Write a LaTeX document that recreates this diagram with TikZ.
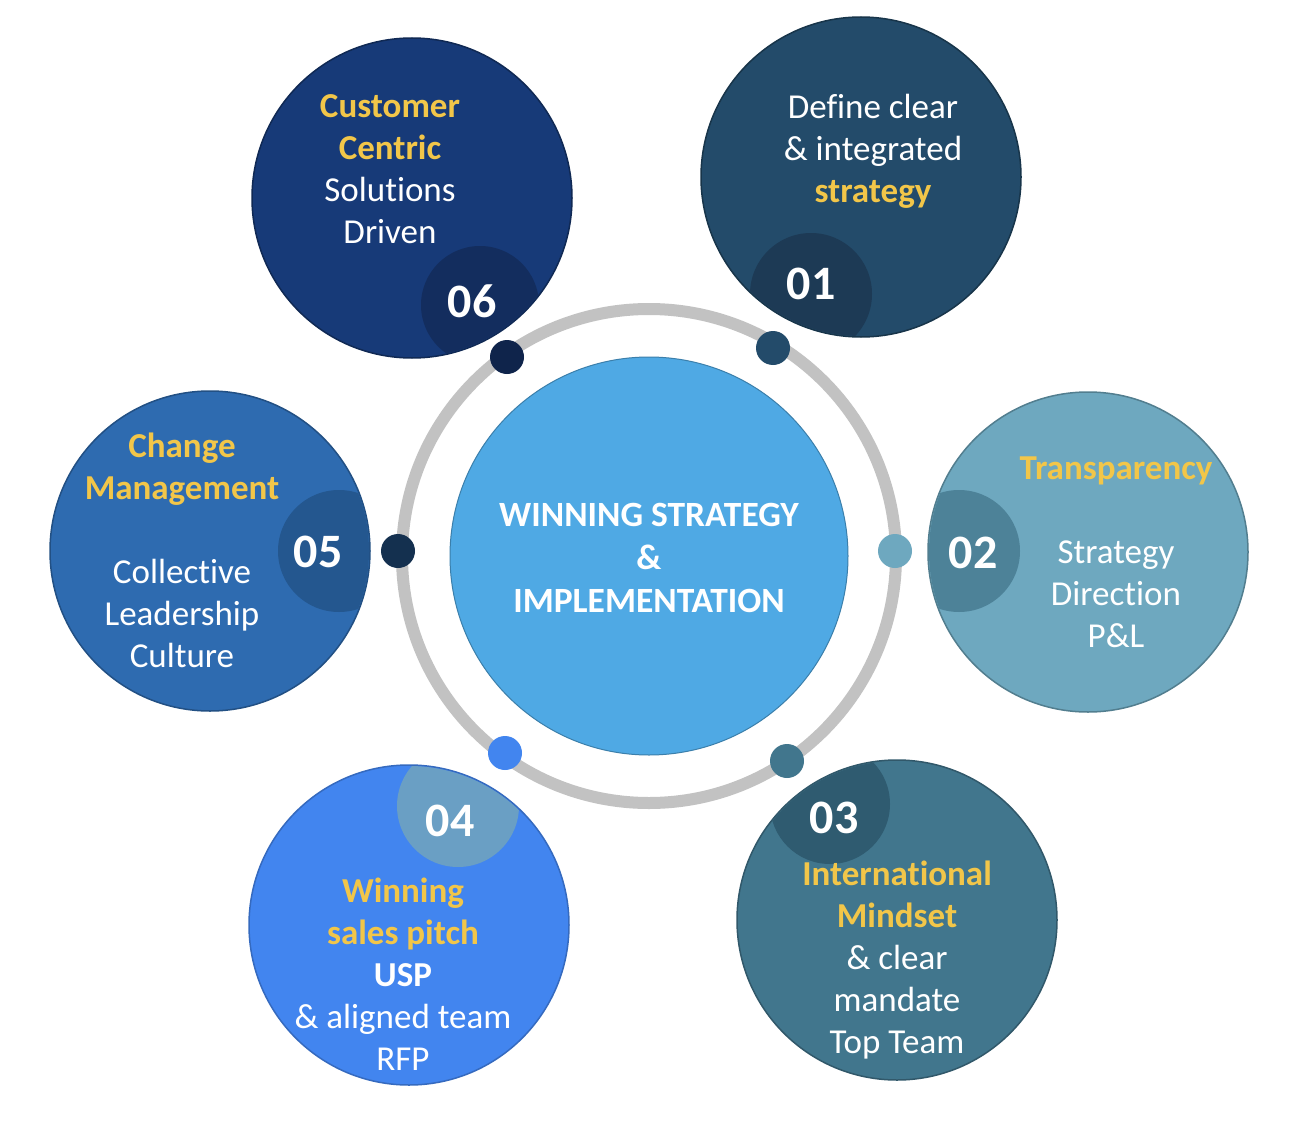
\documentclass[tikz,border=0pt]{standalone}
\usepackage{fontspec}
\setmainfont{Carlito}[Ligatures={NoCommon}]
\usetikzlibrary{calc}

\definecolor{ringgray}{HTML}{C2C2C2}
\definecolor{hubblue}{HTML}{4FA9E4}
\definecolor{goldtxt}{HTML}{F2C649}
\definecolor{oneout}{HTML}{234B6A}
\definecolor{onein}{HTML}{1D3A55}
\definecolor{twoout}{HTML}{6EA8BF}
\definecolor{twoin}{HTML}{4D8298}
\definecolor{threeout}{HTML}{41768D}
\definecolor{threein}{HTML}{2F5B70}
\definecolor{fourout}{HTML}{4285EF}
\definecolor{fourin}{HTML}{6A9FC4}
\definecolor{fiveout}{HTML}{2E6BB0}
\definecolor{fivein}{HTML}{24578F}
\definecolor{sixout}{HTML}{173A78}
\definecolor{sixin}{HTML}{132D5E}

\newcommand{\hl}[1]{\textcolor{goldtxt}{\bfseries #1}}

\tikzset{
  bigdisc/.style={circle, minimum size=320pt, inner sep=0pt, line width=1.5pt},
  ringdot/.style={circle, minimum size=34pt, inner sep=0pt},
  bodytext/.style={align=center, text=white, inner sep=0pt,
    font=\fontsize{35}{42}\selectfont},
  numtext/.style={text=white, inner sep=0pt,
    font=\fontsize{48}{48}\selectfont\bfseries},
}

\begin{document}
\begin{tikzpicture}[x=1pt,y=-1pt]
  \fill[white] (0,0) rectangle (1291,1124);
  \useasboundingbox (0,0) rectangle (1291,1124);

  % ring and hub
  \draw[ringgray, line width=12pt] (649,556) circle[radius=247pt];
  \node[circle, minimum size=398pt, inner sep=0pt, fill=hubblue,
    draw=hubblue!75!black, line width=1pt] (hub) at (649,556) {};
  \node[align=center, text=white, inner sep=0pt,
    font=\fontsize{35.5}{43}\selectfont\bfseries] (hubtxt) at (649,558)
    {WINNING STRATEGY\\\&\\IMPLEMENTATION};

  % dots on the ring
  \node[ringdot, fill=sixin!80!black]   (d06) at (507,357) {};
  \node[ringdot, fill=oneout]           (d01) at (773,348) {};
  \node[ringdot, fill=twoout]           (d02) at (895,551) {};
  \node[ringdot, fill=fivein!55!black]  (d05) at (398,551) {};
  \node[ringdot, fill=fourout]          (d04) at (505,753) {};
  \node[ringdot, fill=threeout]         (d03) at (787,761) {};

  % outer discs
  \node[bigdisc, fill=sixout, draw=sixout!70!black]     (c06) at (412,198) {};
  \node[bigdisc, fill=oneout, draw=oneout!70!black]     (c01) at (861,177) {};
  \node[bigdisc, fill=twoout, draw=twoout!75!black]     (c02) at (1088,552) {};
  \node[bigdisc, fill=fiveout, draw=fiveout!75!black]   (c05) at (210,551) {};
  \node[bigdisc, fill=fourout, draw=fourout!80!black]   (c04) at (409,925) {};
  \node[bigdisc, fill=threeout, draw=threeout!75!black] (c03) at (897,920) {};

  % number patches, cut to their disc
  \begin{scope}
    \clip (c06.center) circle[radius=159pt];
    \fill[sixin] (480,305) circle[radius=59pt];
  \end{scope}
  \begin{scope}
    \clip (c01.center) circle[radius=159pt];
    \fill[onein] (811,294) circle[radius=61pt];
  \end{scope}
  \begin{scope}
    \clip (c02.center) circle[radius=159pt];
    \fill[twoin] (959,551) circle[radius=61pt];
  \end{scope}
  \begin{scope}
    \clip (c05.center) circle[radius=159pt];
    \fill[fivein] (339,551) circle[radius=61pt];
  \end{scope}
  \begin{scope}
    \clip (c04.center) circle[radius=159pt];
    \fill[fourin] (458,806) circle[radius=61pt];
  \end{scope}
  \begin{scope}
    \clip (c03.center) circle[radius=159pt];
    \fill[threein] (830,804) circle[radius=60pt];
  \end{scope}

  % numbers
  \node[numtext] (n06) at (472,301) {06};
  \node[numtext] (n01) at (811,284) {01};
  \node[numtext] (n02) at (973,553) {02};
  \node[numtext] (n05) at (318,552) {05};
  \node[numtext] (n04) at (450,821) {04};
  \node[numtext] (n03) at (834,818) {03};

  % texts
  \node[bodytext] (t06) at (390,169) {\hl{Customer}\\\hl{Centric}\\Solutions\\Driven};
  \node[bodytext] (t01) at (873,151) {Define clear\\\& integrated\\\hl{strategy}};
  \node[bodytext] (t02) at (1116,552) {\hl{Transparency}\\[42pt]Strategy\\Direction\\P\&L};
  \node[bodytext] (t05) at (182,550) {\hl{Change}\\\hl{Management}\\[42pt]Collective\\Leadership\\Culture};
  \node[bodytext] (t04) at (403,974) {\hl{Winning}\\\hl{sales pitch}\\\textbf{USP}\\\& aligned team\\RFP};
  \node[bodytext] (t03) at (897,960) {\hl{International}\\\hl{Mindset}\\\& clear\\mandate\\Top Team};
\end{tikzpicture}
\end{document}
